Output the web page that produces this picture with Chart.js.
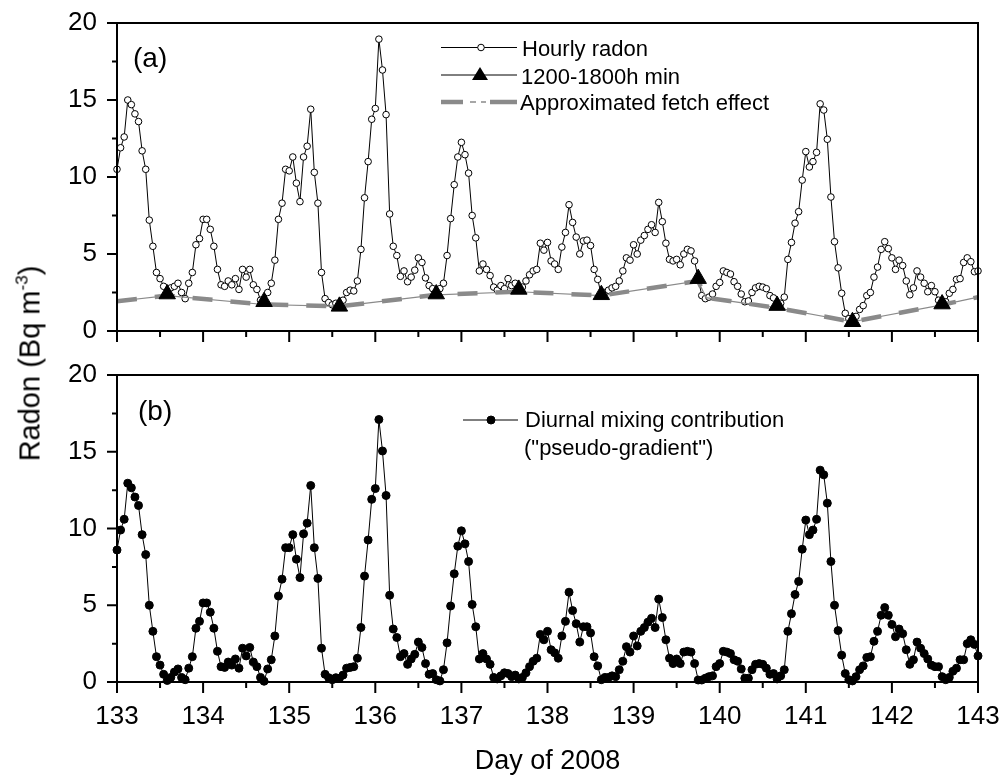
<!DOCTYPE html>
<html lang="en">
<head>
  <meta charset="UTF-8" />
  <title>Radon - Day of 2008</title>
  <script src="https://cdn.jsdelivr.net/npm/chart.js"></script>
  <style>
    body {
      margin: 0;
      background: #fff;
    }

    .wrap {
      position: relative;
      width: 999px;
      height: 775px;
      font-family: 'Liberation Sans', Arial, sans-serif;
      color: #000;
    }

    #chartA { position: absolute; left: 0; top: 0; }
    #chartB { position: absolute; left: 0; top: 345px; }

    .ytitle {
      position: absolute;
      left: -170px;
      top: 349px;
      width: 400px;
      height: 29px;
      line-height: 29px;
      font-size: 29px;
      text-align: center;
      white-space: nowrap;
      transform: rotate(-90deg);
    }

    .ytitle sup {
      font-size: 17px;
      vertical-align: 12px;
      line-height: 0;
    }

    .xtitle {
      position: absolute;
      left: 117px;
      top: 747px;
      width: 861px;
      font-size: 27px;
      line-height: 27px;
      text-align: center;
    }
  </style>
</head>
<body>

<div class="wrap">
  <canvas id="chartA" width="999" height="345"></canvas>
  <canvas id="chartB" width="999" height="430"></canvas>
  <div class="ytitle">Radon (Bq m<sup>-3</sup>)</div>
  <div class="xtitle">Day of 2008</div>
</div>

<script>
  // hourly samples, first one at day 133.0
  const startDay = 133;
  const hourStep = 1 / 24;

  const dayTicks = [133, 134, 135, 136, 137, 138, 139, 140, 141, 142, 143];
  const radonTicks = [0, 5, 10, 15, 20];

  // (a) hourly radon, one row per day
  const hourlyRadon = [
    10.5, 11.9, 12.6, 15.0, 14.7, 14.1, 13.6, 11.7, 10.5, 7.2, 5.5, 3.8, 3.4, 2.9, 2.4, 2.8, 2.9, 3.1, 2.5, 2.1, 3.1, 3.8, 5.6, 6.0,
    7.25, 7.25, 6.6, 5.5, 4.0, 3.0, 2.9, 3.25, 3.0, 3.4, 2.7, 4.0, 3.5, 4.0, 3.0, 2.7, 2.0, 1.9, 2.5, 3.1, 4.6, 7.25, 8.3, 10.5,
    10.4, 11.3, 9.6, 8.4, 11.3, 12.0, 14.4, 10.3, 8.3, 3.8, 2.1, 1.85, 1.7, 1.8, 1.6, 2.0, 2.5, 2.65, 2.6, 3.25, 5.3, 8.65, 11.0, 13.75,
    14.45, 18.95, 16.95, 14.05, 7.6, 5.5, 4.9, 3.55, 3.9, 3.2, 3.5, 3.95, 4.75, 4.45, 3.45, 2.95, 2.75, 2.4, 2.75, 3.1, 4.9, 7.3, 9.5, 11.3,
    12.25, 11.45, 10.25, 7.5, 6.05, 3.9, 4.35, 4.0, 3.6, 2.85, 2.65, 2.95, 2.75, 3.4, 2.95, 3.1, 2.7, 2.85, 3.25, 3.65, 3.9, 4.0, 5.7, 5.25,
    5.75, 4.55, 4.35, 4.0, 5.45, 6.4, 8.2, 7.05, 6.1, 5.0, 5.85, 5.9, 5.55, 4.0, 3.35, 2.35, 2.5, 2.65, 2.8, 2.9, 3.25, 3.9, 4.75, 4.6,
    5.6, 5.0, 5.9, 6.2, 6.6, 6.9, 6.4, 8.35, 7.1, 5.7, 4.65, 4.55, 4.65, 4.3, 5.0, 5.3, 5.2, 4.55, 3.4, 2.3, 2.1, 2.2, 2.4, 2.9,
    3.15, 3.9, 3.8, 3.7, 3.2, 2.9, 2.4, 1.9, 1.95, 2.5, 2.8, 2.9, 2.85, 2.75, 2.3, 2.15, 1.65, 1.8, 2.2, 4.65, 5.75, 7.0, 7.75, 9.8,
    11.65, 10.65, 11.0, 11.6, 14.75, 14.35, 12.45, 8.7, 5.8, 4.1, 2.45, 1.15, 0.8, 0.6, 0.95, 1.4, 1.65, 2.3, 2.5, 3.5, 4.15, 5.3, 5.8, 5.35,
    4.75, 4.0, 4.6, 4.25, 3.25, 2.35, 2.8, 3.9, 3.5, 3.1, 2.55, 2.95, 2.55, 2.0, 1.75, 1.9, 2.45, 2.7, 3.35, 3.4, 4.45, 4.75, 4.5, 3.85,
    3.9
  ];

  // (a) 1200-1800h minimum of each day
  const minDays = [133.583, 134.708, 135.583, 136.708, 137.667, 138.625, 139.75, 140.667, 141.542, 142.583];
  const minValues = [2.4, 1.9, 1.6, 2.4, 2.7, 2.35, 3.4, 1.65, 0.6, 1.75];

  // (a) approximated fetch effect
  const fetchDays = [133.0, 133.583, 134.708, 135.583, 136.708, 137.667, 138.625, 139.75, 139.84, 140.667, 141.542, 142.583, 143.0];
  const fetchValues = [1.93, 2.3, 1.72, 1.6, 2.35, 2.55, 2.3, 3.25, 2.17, 1.5, 0.6, 1.7, 2.2];

  // (b) diurnal mixing contribution, one row per day
  const mixing = [
    8.6, 9.9, 10.6, 12.95, 12.65, 12.05, 11.5, 9.6, 8.3, 5.0, 3.3, 1.65, 1.1, 0.5, 0.1, 0.3, 0.65, 0.85, 0.3, 0.15, 0.9, 1.65, 3.5, 3.95,
    5.15, 5.15, 4.55, 3.5, 2.0, 1.0, 0.95, 1.3, 1.1, 1.5, 0.9, 2.2, 1.7, 2.25, 1.3, 1.0, 0.3, 0.05, 0.85, 1.45, 3.0, 5.6, 6.7, 8.75,
    8.75, 9.6, 8.0, 6.8, 9.65, 10.35, 12.8, 8.75, 6.75, 2.2, 0.5, 0.28, 0.15, 0.28, 0.25, 0.45, 0.9, 0.95, 1.0, 1.55, 3.55, 6.9, 9.25, 11.9,
    12.6, 17.1, 15.05, 12.15, 5.65, 3.45, 2.9, 1.65, 1.85, 1.15, 1.5, 1.8, 2.6, 2.25, 1.2, 0.5, 0.55, 0.15, 0.07, 0.8, 2.55, 4.95, 7.05, 8.85,
    9.85, 9.0, 7.85, 5.05, 3.6, 1.5, 1.85, 1.5, 1.15, 0.3, 0.2, 0.4, 0.6, 0.55, 0.35, 0.45, 0.2, 0.3, 0.6, 1.0, 1.35, 1.55, 3.1, 2.75,
    3.3, 2.1, 1.9, 1.55, 3.0, 3.95, 5.85, 4.65, 3.8, 2.6, 3.6, 3.6, 3.2, 1.65, 1.05, 0.15, 0.3, 0.3, 0.4, 0.35, 0.8, 1.35, 2.3, 1.95,
    3.0, 2.35, 3.3, 3.55, 3.9, 4.15, 3.55, 5.4, 4.2, 2.75, 1.55, 1.2, 1.5, 1.2, 1.95, 2.0, 1.95, 1.2, 0.13, 0.13, 0.25, 0.35, 0.4, 1.0,
    1.2, 2.0, 1.95, 1.85, 1.45, 1.35, 0.85, 0.25, 0.25, 0.8, 1.15, 1.2, 1.15, 0.9, 0.5, 0.55, 0.2, 0.4, 0.8, 3.3, 4.45, 5.7, 6.55, 8.65,
    10.55, 9.6, 9.9, 10.6, 13.8, 13.5, 11.65, 7.85, 5.0, 3.35, 1.75, 0.55, 0.15, 0.07, 0.35, 0.8, 1.05, 1.6, 1.65, 2.65, 3.3, 4.35, 4.85, 4.35,
    3.75, 2.95, 3.45, 3.15, 2.1, 1.15, 1.45, 2.6, 2.2, 1.85, 1.5, 1.1, 1.0, 1.0, 0.35, 0.15, 0.3, 0.7, 0.9, 1.45, 1.45, 2.5, 2.75, 2.45,
    1.7
  ];

  const FONT = "'Liberation Sans', Arial, sans-serif";
  const GREY = '#8a8a8a';

  Chart.defaults.font.family = FONT;
  Chart.defaults.font.size = 26;
  Chart.defaults.color = '#000';

  const hourly = arr => arr.map((v, i) => ({ x: startDay + i * hourStep, y: v }));
  const pairs = (xs, ys) => xs.map((d, i) => ({ x: d, y: ys[i] }));

  // box round the plot plus outward ticks, long on labelled values
  const frame = {
    id: 'frame',
    afterDraw(chart) {
      const { ctx, chartArea: a, scales: { x, y } } = chart;
      ctx.save();
      ctx.strokeStyle = '#000';
      ctx.lineWidth = 2;
      ctx.strokeRect(a.left, a.top, a.right - a.left, a.bottom - a.top);
      ctx.beginPath();
      x.ticks.forEach(t => {
        const px = x.getPixelForValue(t.value);
        const len = dayTicks.includes(t.value) ? 11 : 6;
        ctx.moveTo(px, a.bottom);
        ctx.lineTo(px, a.bottom + len);
      });
      y.ticks.forEach(t => {
        const py = y.getPixelForValue(t.value);
        const len = radonTicks.includes(t.value) ? 10 : 5;
        ctx.moveTo(a.left, py);
        ctx.lineTo(a.left - len, py);
      });
      ctx.stroke();
      ctx.restore();
    }
  };

  function seg(ctx, x1, x2, y) {
    ctx.beginPath();
    ctx.moveTo(x1, y);
    ctx.lineTo(x2, y);
    ctx.stroke();
  }

  function dot(ctx, x, y, r, fill) {
    ctx.beginPath();
    ctx.arc(x, y, r, 0, Math.PI * 2);
    ctx.fillStyle = fill;
    ctx.fill();
    ctx.stroke();
  }

  const legendA = {
    id: 'legendA',
    afterDraw(chart) {
      const ctx = chart.ctx;
      ctx.save();
      ctx.fillStyle = '#000';
      ctx.font = '28px ' + FONT;
      ctx.fillText('(a)', 133, 67);

      ctx.font = '22px ' + FONT;
      ctx.strokeStyle = '#000';
      ctx.lineWidth = 1;
      seg(ctx, 441, 517, 47.5);
      dot(ctx, 481, 47.5, 3.3, '#fff');
      ctx.fillStyle = '#000';
      ctx.fillText('Hourly radon', 522, 56);

      seg(ctx, 441, 517, 75);
      ctx.beginPath();
      ctx.moveTo(480, 67);
      ctx.lineTo(488, 80);
      ctx.lineTo(472, 80);
      ctx.closePath();
      ctx.fill();
      ctx.fillText('1200-1800h min', 521, 83.5);

      ctx.strokeStyle = GREY;
      ctx.lineWidth = 4.5;
      seg(ctx, 441, 463, 102);
      seg(ctx, 490, 517, 102);
      ctx.lineWidth = 1.5;
      seg(ctx, 470, 476, 102);
      seg(ctx, 481, 486, 102);
      ctx.fillText('Approximated fetch effect', 520, 110);
      ctx.restore();
    }
  };

  const legendB = {
    id: 'legendB',
    afterDraw(chart) {
      const ctx = chart.ctx;
      ctx.save();
      ctx.fillStyle = '#000';
      ctx.font = '28px ' + FONT;
      ctx.fillText('(b)', 138, 75);

      ctx.font = '22px ' + FONT;
      ctx.strokeStyle = '#000';
      ctx.lineWidth = 1;
      seg(ctx, 463, 518, 75);
      dot(ctx, 491, 75, 4, '#000');
      ctx.fillStyle = '#000';
      ctx.fillText('Diurnal mixing contribution', 525, 82);
      ctx.fillText('("pseudo-gradient")', 524, 110);
      ctx.restore();
    }
  };

  function scalesFor(showDayLabels, xHeight) {
    return {
      x: {
        type: 'linear',
        min: 133,
        max: 143,
        grid: { display: false, drawTicks: false },
        border: { display: false },
        ticks: {
          stepSize: 0.5,
          autoSkip: false,
          maxRotation: 0,
          padding: 19,
          callback: v => (showDayLabels && dayTicks.includes(v)) ? String(v) : ''
        },
        afterFit(scale) {
          scale.height = xHeight;
          scale.paddingLeft = 0;
          scale.paddingRight = 0;
        }
      },
      y: {
        min: 0,
        max: 20,
        grid: { display: false, drawTicks: false },
        border: { display: false },
        ticks: {
          stepSize: 2.5,
          autoSkip: false,
          padding: 20,
          callback: v => radonTicks.includes(v) ? String(v) : ''
        },
        afterFit(scale) {
          scale.width = 117;
          scale.paddingTop = 0;
          scale.paddingBottom = 0;
        }
      }
    };
  }

  const baseOptions = {
    responsive: false,
    animation: false,
    devicePixelRatio: 1,
    events: [],
    plugins: { legend: { display: false }, tooltip: { enabled: false } }
  };

  new Chart(document.getElementById('chartA'), {
    type: 'line',
    data: {
      datasets: [
        {
          label: '1200-1800h min',
          data: pairs(minDays, minValues),
          showLine: false,
          pointStyle: 'triangle',
          pointRadius: 9.5,
          pointBackgroundColor: '#000',
          pointBorderColor: '#000',
          pointBorderWidth: 1,
          clip: false
        },
        {
          label: 'Approximated fetch effect',
          data: pairs(fetchDays, fetchValues),
          borderColor: GREY,
          borderWidth: 4.5,
          borderDash: [20, 18],
          pointRadius: 0,
          tension: 0
        },
        {
          label: 'fetch (thin)',
          data: pairs(fetchDays, fetchValues),
          borderColor: GREY,
          borderWidth: 1.2,
          pointRadius: 0,
          tension: 0
        },
        {
          label: 'Hourly radon',
          data: hourly(hourlyRadon),
          borderColor: '#000',
          borderWidth: 1,
          pointRadius: 3.3,
          pointBackgroundColor: '#fff',
          pointBorderColor: '#000',
          pointBorderWidth: 1,
          tension: 0,
          clip: false
        }
      ]
    },
    options: {
      ...baseOptions,
      layout: { padding: { left: 0, right: 21, top: 23, bottom: 0 } },
      scales: scalesFor(false, 14)
    },
    plugins: [frame, legendA]
  });

  new Chart(document.getElementById('chartB'), {
    type: 'line',
    data: {
      datasets: [
        {
          label: 'Diurnal mixing contribution',
          data: hourly(mixing),
          borderColor: '#000',
          borderWidth: 1,
          pointRadius: 4,
          pointBackgroundColor: '#000',
          pointBorderColor: '#000',
          pointBorderWidth: 1,
          tension: 0,
          clip: false
        }
      ]
    },
    options: {
      ...baseOptions,
      layout: { padding: { left: 0, right: 21, top: 30, bottom: 0 } },
      scales: scalesFor(true, 93)
    },
    plugins: [frame, legendB]
  });
</script>

</body>
</html>
